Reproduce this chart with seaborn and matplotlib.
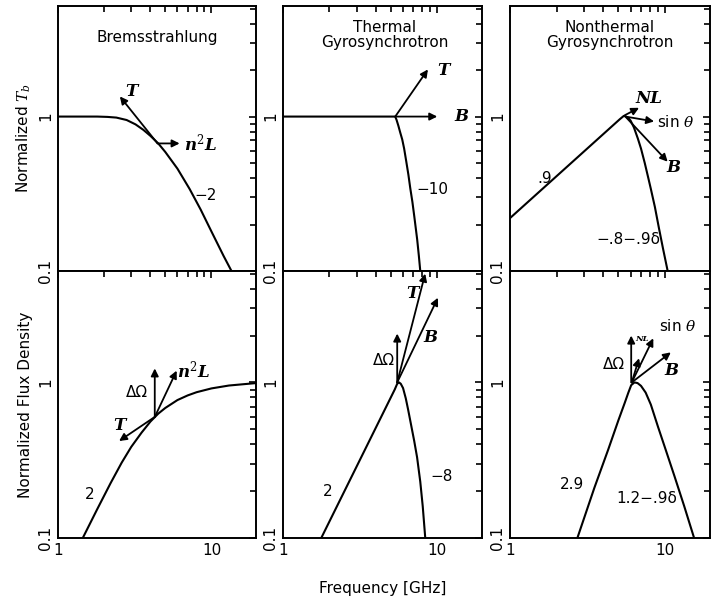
import numpy as np
import pandas as pd
import seaborn as sns
import matplotlib
matplotlib.use('Agg')
from matplotlib import pyplot as plt
from matplotlib.ticker import LogLocator, NullFormatter, FixedLocator, FixedFormatter

# curves (frequency in GHz, normalized value)
brems_tb_freq = [1, 1.8, 2.1, 2.4, 2.8, 3.2, 3.6, 4.0, 4.5, 5.0, 6.0, 7.2, 8.5, 10, 12, 13.5]
brems_tb = [1.0, 1.0, 0.995, 0.985, 0.95, 0.89, 0.82, 0.75, 0.67, 0.59, 0.46, 0.34, 0.25, 0.18, 0.125, 0.1]
brems_flux_freq = [1.45, 1.8, 2.2, 2.6, 3.0, 3.5, 4.0, 4.5, 5.0, 6.0, 7.0, 8.0, 10, 13, 19.5]
brems_flux = [0.1, 0.153, 0.225, 0.305, 0.385, 0.475, 0.56, 0.63, 0.685, 0.77, 0.825, 0.865, 0.915, 0.955, 0.99]

therm_tb_freq = [1, 5.0, 5.34, 5.45, 5.6, 5.75, 5.93, 6.1, 6.3, 6.5, 6.68, 6.9, 7.1, 7.41, 7.6, 7.76]
therm_tb = [1, 1, 1, 0.95, 0.87, 0.79, 0.71, 0.62, 0.51, 0.42, 0.345, 0.28, 0.225, 0.16, 0.125, 0.1]
therm_flux_freq = [1.77, 5.3, 5.5, 5.65, 5.8, 6.0, 6.25, 6.47, 6.75, 7.09, 7.4, 7.76, 8.05, 8.36]
therm_flux = [0.1, 0.9, 0.98, 1.0, 0.98, 0.92, 0.79, 0.67, 0.54, 0.42, 0.33, 0.23, 0.16, 0.1]

nonth_tb_freq = [1, 5.1, 5.42, 5.6, 5.8, 6.0, 6.3, 6.68, 7.0, 7.4, 7.8, 8.1, 8.6, 9.13, 9.7, 10.4]
nonth_tb = [0.22, 0.96, 1.01, 1.0, 0.98, 0.94, 0.85, 0.72, 0.62, 0.5, 0.4, 0.34, 0.26, 0.19, 0.14, 0.1]
nonth_flux_freq = [2.72, 3.5, 4.3, 5.0, 5.5, 5.8, 6.05, 6.35, 6.65, 7.0, 7.5, 8.1, 9.0, 10, 11.5, 13.3, 15.4]
nonth_flux = [0.1, 0.21, 0.37, 0.57, 0.74, 0.86, 0.96, 1.0, 0.99, 0.95, 0.86, 0.72, 0.52, 0.38, 0.25, 0.16, 0.1]

# parameter-dependence arrows: (x0, y0, x1, y1)
brems_tb_arrows = [(4.45, 0.67, 2.53, 1.35), (4.45, 0.67, 6.2, 0.67)]
therm_tb_arrows = [(5.34, 1.0, 8.7, 2.02), (5.34, 1.0, 10.0, 1.0)]
nonth_tb_arrows = [(5.5, 1.02, 6.8, 1.14), (5.55, 1.0, 8.5, 0.93), (5.6, 0.99, 10.4, 0.51)]
brems_flux_arrows = [(4.27, 0.6, 4.27, 1.23), (4.27, 0.6, 5.93, 1.19), (4.27, 0.6, 2.5, 0.42)]
therm_flux_arrows = [(5.5, 1.0, 5.5, 2.06), (5.5, 1.0, 8.35, 5.0), (5.5, 1.0, 10.1, 3.5)]
nonth_flux_arrows = [(6.05, 1.0, 6.05, 2.0), (6.1, 1.0, 6.8, 1.43), (6.1, 1.0, 8.4, 1.92), (6.1, 1.0, 10.9, 1.56)]

x_ticks = [1, 10]
x_ticklabels = ['1', '10']
y_ticks = [0.1, 1]
y_ticklabels = ['0.1', '1']

sns.set_style('white')
plt.rcParams['font.family'] = ['DejaVu Sans']
plt.rcParams['mathtext.fontset'] = 'dejavuserif'
plt.rcParams['text.color'] = 'black'
plt.rcParams['axes.labelcolor'] = 'black'
plt.rcParams['xtick.color'] = 'black'
plt.rcParams['ytick.color'] = 'black'

fig = plt.figure(figsize=(7.25, 5.96), dpi=100)
lefts = [58 / 725, 283 / 725, 510 / 725]
widths = [198 / 725, 199 / 725, 200 / 725]
bottoms = [1 - 271 / 596, 1 - 538 / 596]
heights = [265 / 596, 267 / 596]

axes = {}
for r in range(2):
    for c in range(3):
        ax = fig.add_axes([lefts[c], bottoms[r], widths[c], heights[r]])
        axes[(r, c)] = ax

curves = {
    (0, 0): (brems_tb_freq, brems_tb, brems_tb_arrows),
    (0, 1): (therm_tb_freq, therm_tb, therm_tb_arrows),
    (0, 2): (nonth_tb_freq, nonth_tb, nonth_tb_arrows),
    (1, 0): (brems_flux_freq, brems_flux, brems_flux_arrows),
    (1, 1): (therm_flux_freq, therm_flux, therm_flux_arrows),
    (1, 2): (nonth_flux_freq, nonth_flux, nonth_flux_arrows),
}

for (r, c), ax in axes.items():
    fx, fy, arrows = curves[(r, c)]
    df = pd.DataFrame({'freq': fx, 'val': fy})
    sns.lineplot(data=df, x='freq', y='val', ax=ax, color='black', lw=1.5, sort=False)
    ax.set_xscale('log')
    ax.set_yscale('log')
    ax.set_xlim(1, 19.5)
    ax.set_ylim(0.1, 5.2)
    for x0, y0, x1, y1 in arrows:
        ax.annotate('', xy=(x1, y1), xytext=(x0, y0),
                    arrowprops=dict(arrowstyle='-|>', color='black', lw=1.3,
                                    mutation_scale=11, shrinkA=0, shrinkB=0))
    ax.xaxis.set_major_locator(FixedLocator(x_ticks))
    ax.xaxis.set_minor_locator(LogLocator(base=10, subs=np.arange(2, 10)))
    ax.yaxis.set_major_locator(FixedLocator(y_ticks))
    ax.yaxis.set_minor_locator(LogLocator(base=10, subs=np.arange(2, 10)))
    ax.xaxis.set_minor_formatter(NullFormatter())
    ax.yaxis.set_minor_formatter(NullFormatter())
    ax.yaxis.set_major_formatter(FixedFormatter(y_ticklabels))
    if r == 1:
        ax.xaxis.set_major_formatter(FixedFormatter(x_ticklabels))
    else:
        ax.xaxis.set_major_formatter(NullFormatter())
    ax.tick_params(which='both', direction='in', top=True, right=True, width=1.2, labelsize=11)
    ax.tick_params(which='major', length=5)
    ax.tick_params(which='minor', length=4)
    for lab in ax.get_yticklabels():
        lab.set_rotation(90)
        lab.set_va('center')
    for s in ax.spines.values():
        s.set_linewidth(1.4)
        s.set_color('black')
    ax.set_xlabel('')
    ax.set_ylabel('')

serif_it = dict(family='DejaVu Serif', style='italic', weight='bold', fontsize=12)
sans = dict(family='DejaVu Sans', fontsize=11)

# top row
a = axes[(0, 0)]
a.text(0.5, 0.88, 'Bremsstrahlung', transform=a.transAxes, ha='center', va='center', **sans)
a.text(2.75, 1.45, 'T', ha='left', va='center', **serif_it)
a.text(6.6, 0.67, 'n$^2$L', ha='left', va='center', **serif_it)
a.text(7.7, 0.31, '−2', ha='left', va='center', **sans)
a.set_ylabel('Normalized $T_b$', fontsize=11)

a = axes[(0, 1)]
a.text(0.51, 0.89, 'Thermal\nGyrosynchrotron', transform=a.transAxes, ha='center', va='center',
       linespacing=1.0, **sans)
a.text(10.0, 2.0, 'T', ha='left', va='center', **serif_it)
a.text(13.0, 1.0, 'B', ha='left', va='center', **serif_it)
a.text(7.3, 0.336, '−10', ha='left', va='center', **sans)

a = axes[(0, 2)]
a.text(0.5, 0.89, 'Nonthermal\nGyrosynchrotron', transform=a.transAxes, ha='center', va='center',
       linespacing=1.0, **sans)
a.text(6.4, 1.3, 'NL', ha='left', va='center', **serif_it)
a.text(8.9, 0.92, 'sin $\\theta$', ha='left', va='center', **sans)
a.text(10.2, 0.47, 'B', ha='left', va='center', **serif_it)
a.text(1.5, 0.40, '.9', ha='left', va='center', **sans)
a.text(5.8, 0.16, '−.8−.9δ', ha='center', va='center', **sans)

# bottom row
a = axes[(1, 0)]
a.text(3.25, 0.86, 'ΔΩ', ha='center', va='center', **sans)
a.text(6.0, 1.2, 'n$^2$L', ha='left', va='center', **serif_it)
a.text(2.3, 0.53, 'T', ha='left', va='center', **serif_it)
a.text(1.6, 0.19, '2', ha='center', va='center', **sans)
a.set_ylabel('Normalized Flux Density', fontsize=11)

a = axes[(1, 1)]
a.text(4.5, 1.38, 'ΔΩ', ha='center', va='center', **sans)
a.text(6.9, 3.7, 'T', ha='center', va='center', **serif_it)
a.text(9.0, 1.94, 'B', ha='center', va='center', **serif_it)
a.text(1.96, 0.2, '2', ha='center', va='center', **sans)
a.text(9.0, 0.25, '−8', ha='left', va='center', **sans)

a = axes[(1, 2)]
a.text(4.7, 1.3, 'ΔΩ', ha='center', va='center', **sans)
a.text(6.4, 1.9, 'NL', ha='left', va='center', family='DejaVu Serif', style='italic',
       weight='bold', fontsize=6)
a.text(9.2, 2.3, 'sin $\\theta$', ha='left', va='center', **sans)
a.text(11.0, 1.2, 'B', ha='center', va='center', **serif_it)
a.text(2.5, 0.22, '2.9', ha='center', va='center', **sans)
a.text(7.6, 0.18, '1.2−.9δ', ha='center', va='center', **sans)

fig.text(383 / 725, 1 - 588 / 596, 'Frequency [GHz]', ha='center', va='center', fontsize=11)

fig.savefig('out.png', dpi=100)
